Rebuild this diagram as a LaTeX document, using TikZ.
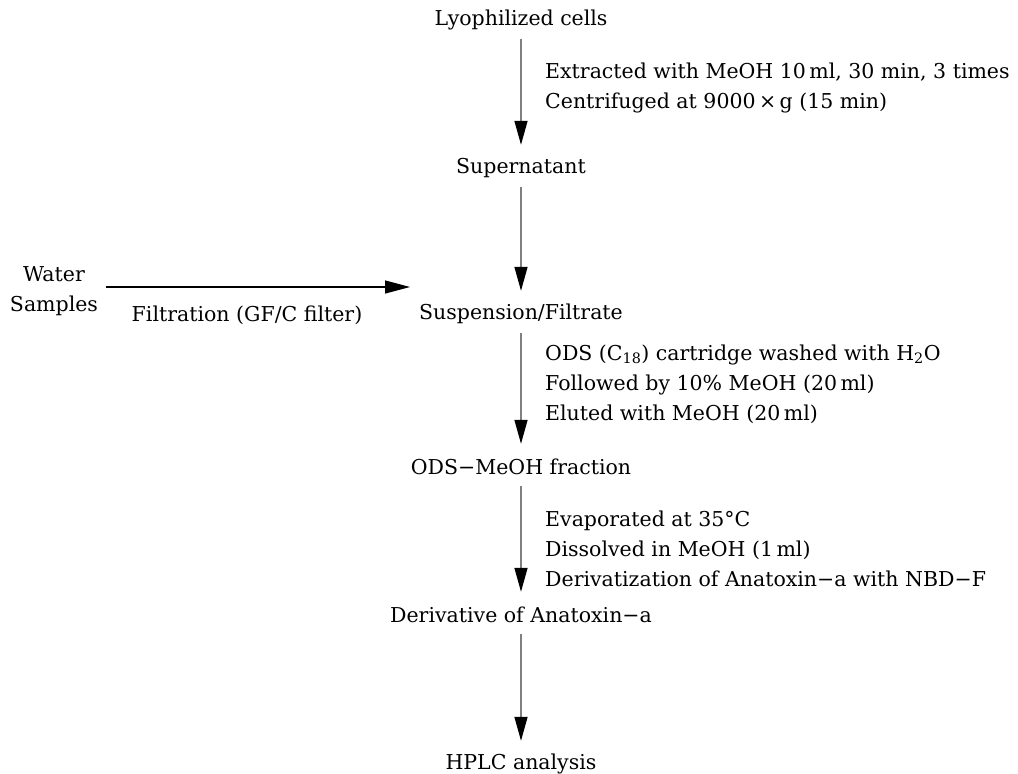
\documentclass[tikz,border=0pt]{standalone}
\usepackage{fontspec}
\setmainfont{DejaVu Serif}
\usetikzlibrary{arrows.meta}

\tikzset{
	stage/.style={inner sep=0pt, minimum height=38pt, font=\fontsize{20.5}{30}\selectfont},
	note/.style={inner sep=0pt, anchor=west, align=left, font=\fontsize{20.5}{30}\selectfont},
	flow/.style={draw=gray, line width=1.5pt, shorten >=4pt, -{Triangle[length=24pt,width=13pt,color=black]}}
}

\begin{document}
\begin{tikzpicture}[x=1pt, y=-1pt]
		\useasboundingbox (0, 0) rectangle (1018, 774);
		% main column
		\node[stage] (lyo) at (521, 20) {Lyophilized cells};
		\node[stage] (super) at (521, 168) {Supernatant};
		\node[stage] (susp) at (521, 314) {Suspension/Filtrate};
		\node[stage] (odsfrac) at (521, 467) {ODS−MeOH fraction};
		\node[stage] (deriv) at (521, 615) {Derivative of Anatoxin−a};
		\node[stage] (hplc) at (521, 764) {HPLC analysis};
		% side input
		\node[stage, align=center] (water) at (54, 291) {Water\\Samples};
		\coordinate (filtend) at (410, 287);
		\node[stage] (filt) at (247, 315) {Filtration (GF/C filter)};
		% step notes
		\node[note] (extract) at (545, 88) {Extracted with MeOH 10\,ml, 30 min, 3 times\\Centrifuged at 9000\,×\,g (15 min)};
		\node[note] (wash) at (545, 384) {ODS (C\textsubscript{18}) cartridge washed with H\textsubscript{2}O\\Followed by 10\% MeOH (20\,ml)\\Eluted with MeOH (20\,ml)};
		\node[note] (evap) at (545, 549) {Evaporated at 35\textdegree C\\Dissolved in MeOH (1\,ml)\\Derivatization of Anatoxin−a with NBD−F};
		% arrows
		\draw[flow] (lyo) -- (super);
		\draw[flow] (super) -- (susp);
		\draw[flow] (susp) -- (odsfrac);
		\draw[flow] (odsfrac) -- (deriv);
		\draw[flow] (deriv) -- (hplc);
		\draw[line width=1.2pt, -{Triangle[length=25pt,width=13pt]}] (water.east |- filtend) ++(8, 0) -- (filtend);
	\end{tikzpicture}
\end{document}
